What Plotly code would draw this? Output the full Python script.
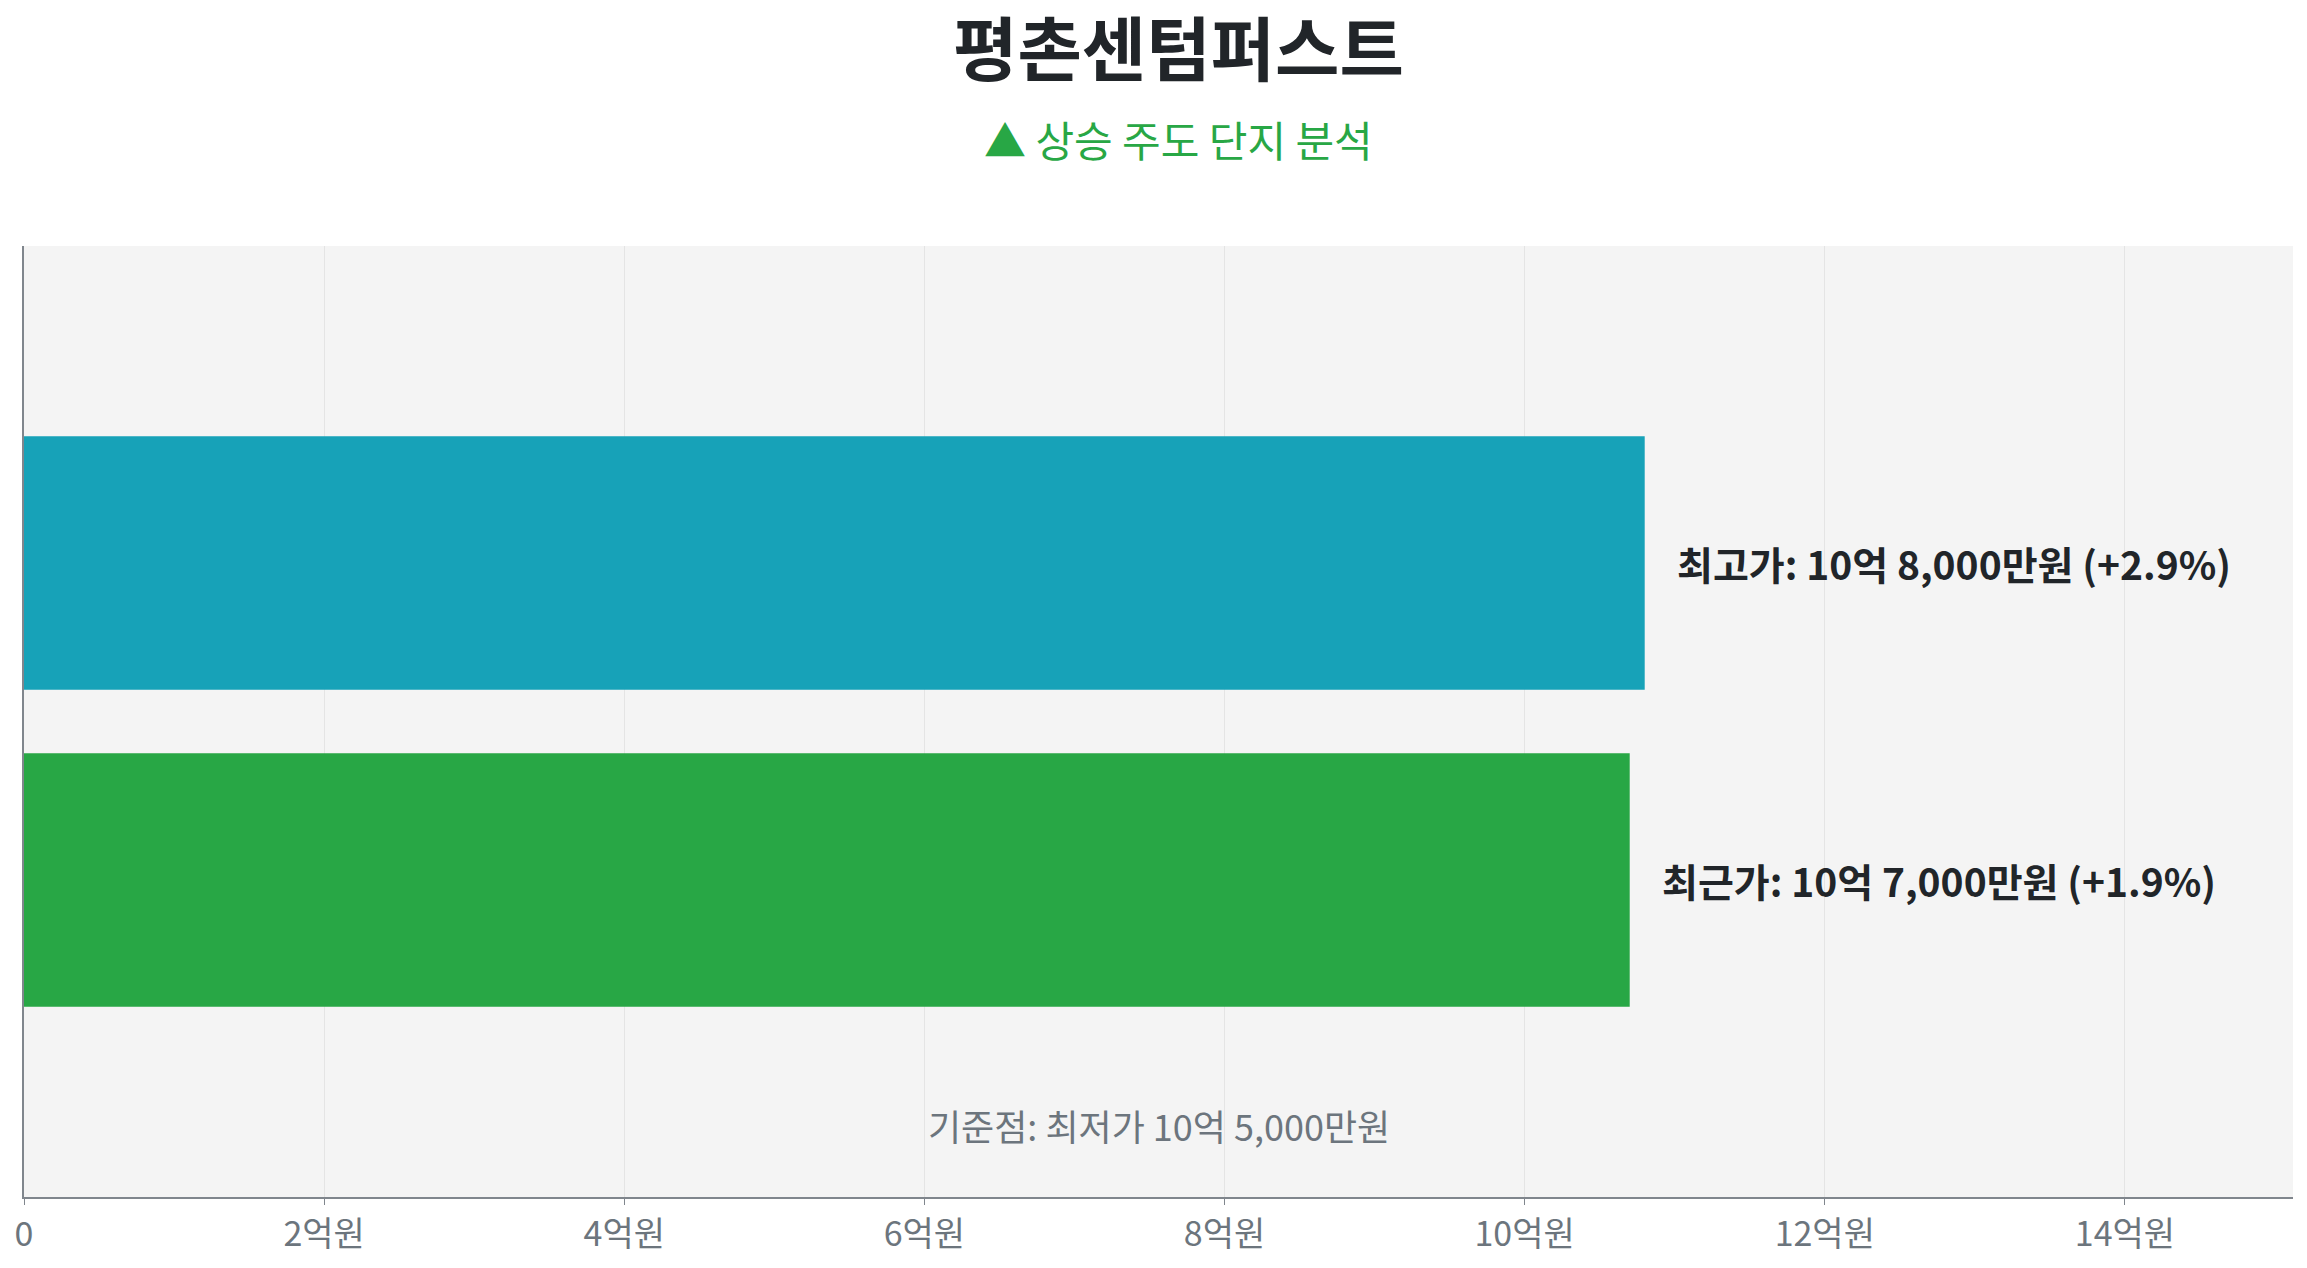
import plotly.graph_objects as go

# 데이터
categories = ['최근가', '최고가']
prices = [1070000000, 1080000000]          # 원
changes = [1.9, 2.9]                        # 최저가 대비 상승률 (%)
price_text = ['10억 7,000만원', '10억 8,000만원']
bar_colors = ['#28a745', '#17a2b8']
base_label = '기준점: 최저가 10억 5,000만원'

tick_vals = [0, 2e8, 4e8, 6e8, 8e8, 10e8, 12e8, 14e8]
tick_text = ['0', '2억원', '4억원', '6억원', '8억원', '10억원', '12억원', '14억원']

FONT = 'Noto Sans CJK KR'

fig = go.Figure()

fig.add_trace(go.Bar(
    x=prices,
    y=categories,
    orientation='h',
    marker=dict(color=bar_colors, line=dict(width=0)),
    width=0.8,
    hoverinfo='skip',
    showlegend=False
))

# 막대 옆 라벨
for cat, p, t, c in zip(categories, prices, price_text, changes):
    fig.add_annotation(
        x=p, y=cat,
        text=f'<b>{cat}: {t} (+{c}%)</b>',
        showarrow=False,
        xanchor='left', yanchor='middle',
        xshift=30,
        font=dict(family=FONT, size=39, color='#212529')
    )

# 기준점 안내
fig.add_annotation(
    x=0.5, y=0.076, xref='paper', yref='paper',
    text=base_label,
    showarrow=False,
    xanchor='center', yanchor='middle',
    font=dict(family=FONT, size=36, color='#6c757d')
)

# 제목
fig.add_annotation(
    x=0.509, y=1.211, xref='paper', yref='paper',
    text='<b>평촌센텀퍼스트</b>',
    showarrow=False,
    xanchor='center', yanchor='middle',
    font=dict(family=FONT, size=70, color='#212529')
)

# 부제목
fig.add_annotation(
    x=0.509, y=1.113, xref='paper', yref='paper',
    text='▲ 상승 주도 단지 분석',
    showarrow=False,
    xanchor='center', yanchor='middle',
    font=dict(family=FONT, size=42, color='#28a745')
)

fig.update_layout(
    xaxis=dict(
        range=[0, 1.512e9],
        tickvals=tick_vals,
        ticktext=tick_text,
        showgrid=True,
        gridcolor='#e4e4e4',
        gridwidth=1,
        showline=True,
        linecolor='#80868d',
        linewidth=2,
        ticks='outside',
        ticklen=6,
        tickcolor='#80868d',
        tickfont=dict(family=FONT, size=34, color='#6c757d'),
        zeroline=False,
        fixedrange=True
    ),
    yaxis=dict(
        range=[-1, 2],
        showticklabels=False,
        showgrid=False,
        showline=True,
        linecolor='#80868d',
        linewidth=2,
        zeroline=False,
        fixedrange=True
    ),
    plot_bgcolor='#f4f4f4',
    paper_bgcolor='white',
    margin=dict(l=24, r=14, t=246, b=62),
    width=2307,
    height=1268,
    bargap=0.2,
    showlegend=False
)

# 페이지 기본 여백 제거
fig.write_html('out.html', config={'displayModeBar': False},
               post_script="document.body.style.margin='0';")
